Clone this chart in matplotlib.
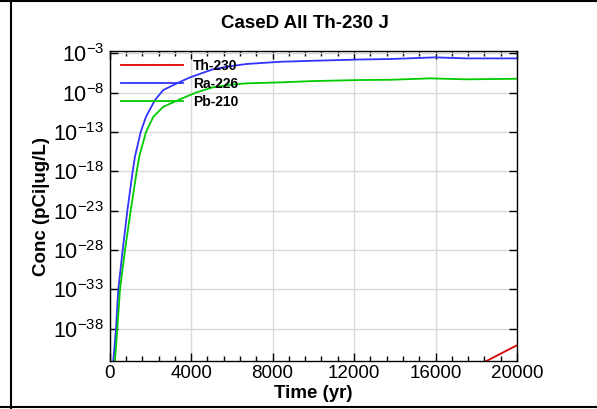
import numpy as np
import matplotlib
matplotlib.use('agg')
import matplotlib.pyplot as plt
from matplotlib.lines import Line2D
from matplotlib.ticker import FixedLocator, MultipleLocator, FuncFormatter

plt.rcParams['font.family'] = ['Liberation Sans', 'DejaVu Sans']
plt.rcParams['mathtext.fontset'] = 'custom'
plt.rcParams['mathtext.rm'] = 'Liberation Sans'
plt.rcParams['mathtext.default'] = 'regular'

title = "CaseD All Th-230 J"
xlabel = "Time (yr)"
ylabel = "Conc (pCi|ug/L)"

# time (yr) and log10 of concentration
th230_t = [18200, 20000]
th230_log = [-42.5, -40.1]

ra226_t = [150, 177, 309, 422, 638, 866, 1129, 1242, 1522, 1782, 2224, 2632, 3300,
           3900, 4600, 5100, 6000, 6727, 8362, 9997, 12290, 13763, 15973, 17530, 20000]
ra226_log = [-43.3, -42.1, -38, -33, -28, -23, -18, -16.1, -13, -11.06, -8.93, -7.66, -6.81,
             -6.1, -5.45, -5.0, -4.6, -4.35, -4.07, -3.94, -3.78, -3.72, -3.51, -3.64, -3.64]

pb210_t = [230, 260, 373, 506, 751, 1031, 1326, 1453, 1782, 2141, 2632, 3350, 3860,
           4272, 5087, 5917, 6727, 8362, 9997, 12290, 13763, 15727, 17530, 20000]
pb210_log = [-43.3, -42.1, -38, -33, -28, -23, -18, -16.1, -13, -11.06, -9.79, -8.95, -8.39,
             -7.95, -7.3, -6.99, -6.81, -6.69, -6.52, -6.39, -6.36, -6.18, -6.3, -6.23]

series = [("Th-230", th230_t, th230_log, '#dd0000'),
          ("Ra-226", ra226_t, ra226_log, '#3333ff'),
          ("Pb-210", pb210_t, pb210_log, '#00cc00')]

yticks = [1e-3, 1e-8, 1e-13, 1e-18, 1e-23, 1e-28, 1e-33, 1e-38]

W, H = 597, 409
fig = plt.figure(figsize=(W / 100, H / 100), dpi=100)
ax = fig.add_axes([109.7 / W, 1 - 361 / H, 407.3 / W, 310 / H])

for name, t, lg, col in series:
    ax.plot(t, 10.0 ** np.array(lg), color=col, lw=1.3, label=name)

ax.set_yscale('log')
ax.set_xlim(0, 20000)
ax.set_ylim(10 ** -42.1, 10 ** -2.7)

ax.xaxis.set_major_locator(MultipleLocator(4000))
ax.xaxis.set_minor_locator(MultipleLocator(800))
ax.yaxis.set_major_locator(FixedLocator(yticks))
ax.yaxis.set_minor_locator(FixedLocator([]))
ax.yaxis.set_major_formatter(FuncFormatter(lambda v, p: r'$10^{%d}$' % round(np.log10(v))))

ax.tick_params(which='both', direction='in', top=True, right=True, color='black')
ax.tick_params(which='major', length=5.5, width=1.0)
ax.tick_params(which='minor', length=3.8, width=1.0)
ax.tick_params(axis='x', labelsize=13.5, pad=3)
ax.tick_params(axis='y', labelsize=15.5, pad=4)

ax.grid(True, which='major', color='#d9d9d9', lw=1.0)
ax.set_axisbelow(True)
for s in ax.spines.values():
    s.set_linewidth(1.0)

ax.set_xlabel(xlabel, fontsize=13.5, fontweight='bold', labelpad=2)
ax.set_ylabel(ylabel, fontsize=13.5, fontweight='bold', labelpad=2)
fig.text(305 / W, 1 - 28 / H, title, fontsize=13.5, fontweight='bold',
         ha='center', va='baseline')

ax.legend(loc='upper left', bbox_to_anchor=(0.027, 0.975), frameon=False,
          borderpad=0, borderaxespad=0, handlelength=4.5, handletextpad=0.7,
          labelspacing=0.3, prop={'weight': 'bold', 'size': 10})

# page border lines
fig.add_artist(Line2D([0, 1], [1 - 1 / H, 1 - 1 / H], color='black', lw=1.5))
fig.add_artist(Line2D([0, 1], [1 - 407 / H, 1 - 407 / H], color='black', lw=1.5))
fig.add_artist(Line2D([10.5 / W, 10.5 / W], [0, 1], color='black', lw=1.5))

fig.savefig('out.png', dpi=100)
